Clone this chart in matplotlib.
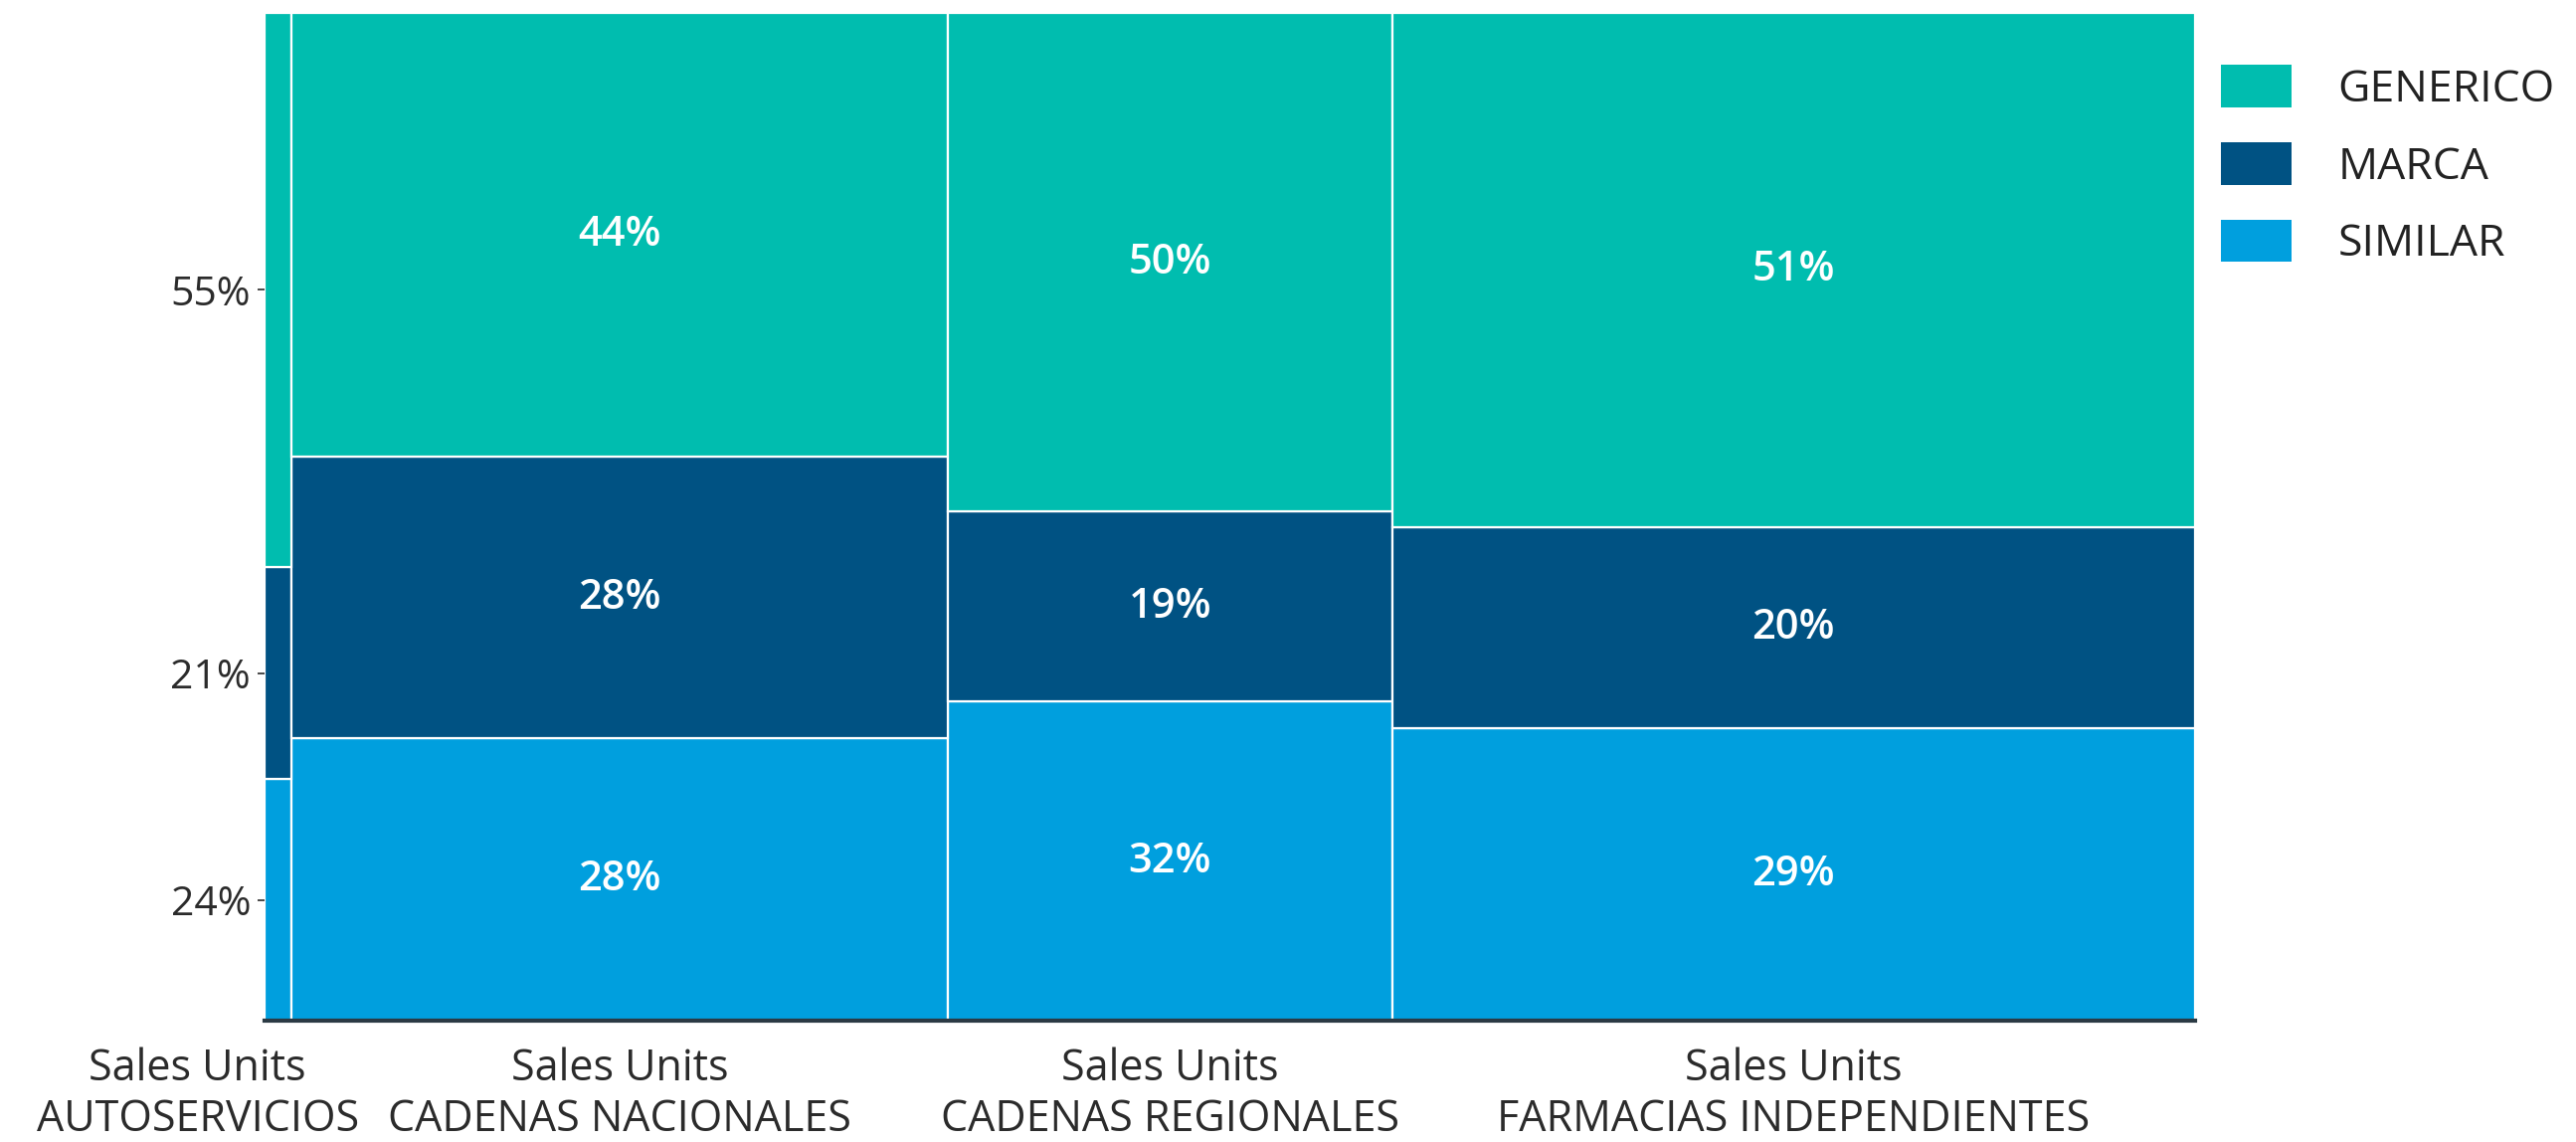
import numpy as np
import matplotlib
matplotlib.use("Agg")
import matplotlib.pyplot as plt
import matplotlib.transforms as mtransforms
from matplotlib.patches import Patch

plt.rcParams['font.family'] = ['Open Sans', 'DejaVu Sans']

# data
channels = ["AUTOSERVICIOS", "CADENAS NACIONALES", "CADENAS REGIONALES",
            "FARMACIAS INDEPENDIENTES"]
measure = "Sales Units"
col_share = [1.4, 34.0, 23.0, 41.6]          # width of each column (% of total)
series = ["SIMILAR", "MARCA", "GENERICO"]   # stacked bottom -> top
similar = [24, 28, 32, 29]
marca = [21, 28, 19, 20]
generico = [55, 44, 50, 51]

colors = {"GENERICO": "#00BDAF", "MARCA": "#005283", "SIMILAR": "#009FDE"}

fig = plt.figure(figsize=(25.9, 11.48), dpi=100)
ax = fig.add_axes([0.1027, 0.106, 0.7494, 0.883])

vals = np.array([similar, marca, generico], dtype=float)
heights = vals / vals.sum(axis=0) * 100
widths = np.array(col_share, dtype=float)
lefts = np.concatenate([[0], np.cumsum(widths)[:-1]])
centers = lefts + widths / 2

bottoms = np.zeros(len(channels))
for i, name in enumerate(series):
    ax.bar(lefts, heights[i], width=widths, bottom=bottoms, align='edge',
           color=colors[name], edgecolor='white', linewidth=1.6)
    for j in range(1, len(channels)):
        ax.text(centers[j], bottoms[j] + heights[i][j] / 2, f"{int(vals[i][j])}%",
                ha='center', va='center', color='white', fontsize=30,
                fontweight='semibold')
    bottoms += heights[i]

ax.set_xlim(0, widths.sum())
ax.set_ylim(0, 100)

# y ticks sit in the middle of the first column's segments
first_mid = np.cumsum(heights[:, 0]) - heights[:, 0] / 2
ax.set_yticks(first_mid, [f"{int(v)}%" for v in vals[:, 0]])
ax.tick_params(axis='y', length=5, width=1.2, pad=5, labelsize=29.5,
               colors='#2b2b2b')
ax.set_xticks([])

for s in ['top', 'right', 'left']:
    ax.spines[s].set_visible(False)
ax.spines['bottom'].set_color('#2b3a44')
ax.spines['bottom'].set_linewidth(3)

# category labels under each column
for j, ch in enumerate(channels):
    tr = mtransforms.blended_transform_factory(ax.transData, ax.transAxes)
    if j == 0:
        tr = tr + mtransforms.ScaledTranslation(-0.81, 0, fig.dpi_scale_trans)
    ax.text(centers[j], -0.026, f"{measure}\n{ch}", transform=tr,
            ha='center', va='top', fontsize=31, color='#2b2b2b',
            linespacing=1.2)

handles = [Patch(facecolor=colors[n], label=n) for n in ["GENERICO", "MARCA", "SIMILAR"]]
fig.legend(handles=handles, loc='upper left', bbox_to_anchor=(0.862, 0.943),
           frameon=False, fontsize=32, handlelength=1.6, handleheight=1.1,
           handletextpad=1.05, labelspacing=0.68, borderpad=0, borderaxespad=0,
           labelcolor='#222222')

fig.savefig("out.png", dpi=100)
